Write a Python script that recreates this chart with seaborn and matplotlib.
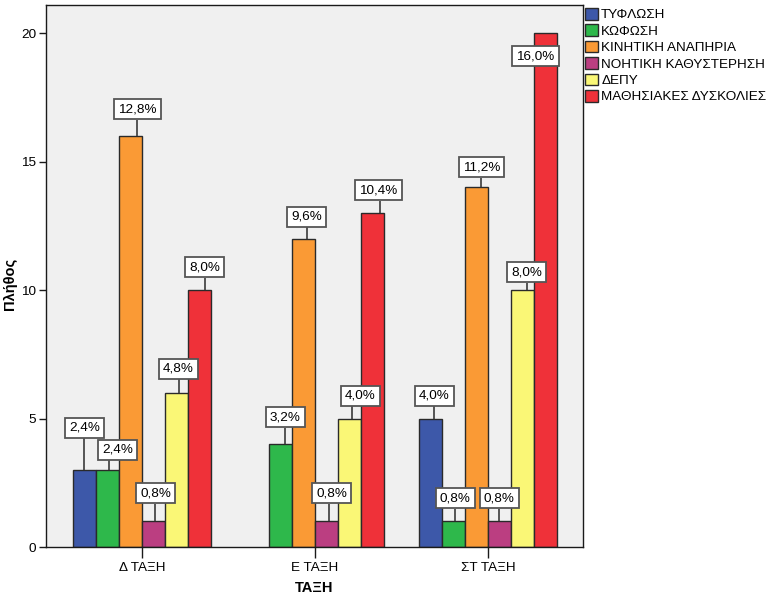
import matplotlib
matplotlib.use("Agg")
import matplotlib.pyplot as plt
import seaborn as sns
import pandas as pd
import numpy as np

# ---- data ----
classes = ["Δ ΤΑΞΗ", "Ε ΤΑΞΗ", "ΣΤ ΤΑΞΗ"]
groups = ["ΤΥΦΛΩΣΗ", "ΚΩΦΩΣΗ", "ΚΙΝΗΤΙΚΗ ΑΝΑΠΗΡΙΑ", "ΝΟΗΤΙΚΗ ΚΑΘΥΣΤΕΡΗΣΗ",
          "ΔΕΠΥ", "ΜΑΘΗΣΙΑΚΕΣ ΔΥΣΚΟΛΙΕΣ"]
counts_d = [3, 3, 16, 1, 6, 10]
counts_e = [np.nan, 4, 12, 1, 5, 13]
counts_st = [5, 1, 14, 1, 10, 20]
pct_d = ["2,4%", "2,4%", "12,8%", "0,8%", "4,8%", "8,0%"]
pct_e = [None, "3,2%", "9,6%", "0,8%", "4,0%", "10,4%"]
pct_st = ["4,0%", "0,8%", "11,2%", "0,8%", "8,0%", "16,0%"]
yticks = [0, 5, 10, 15, 20]

colors = ["#3D58A9", "#2EB84B", "#FA9A35", "#BB3E81", "#FAF776", "#EF3139"]

# label style: (box dx px, box dy px, leader-line dx px) relative to bar top centre
label_offsets = [
    [(0, 42, 0), (10, 20, 1.5), (7, 27, 6.5), (2, 28, 1), (2, 24, 2), (5, 23, 5)],
    [(0, 0, 0), (5, 27, 4.5), (3, 22, 3.5), (5, 28, 3), (11, 23, 2), (6, 23, 7)],
    [(4, 23, 4), (2, 23, 2), (5, 20, 5), (0, 23, 0), (4.5, 18, 4.5), (-10, -23, None)],
]
BOX_HALF_H = 10.5  # px
FS = 9.7

rows = []
for cls, cnts in zip(classes, [counts_d, counts_e, counts_st]):
    for g, c in zip(groups, cnts):
        rows.append({"ΤΑΞΗ": cls, "group": g, "count": c})
df = pd.DataFrame(rows).dropna()

sns.set_style("white")
plt.rcParams["font.family"] = ["Liberation Sans", "DejaVu Sans"]
plt.rcParams["text.color"] = "black"
plt.rcParams["axes.labelcolor"] = "black"
plt.rcParams["xtick.color"] = "black"
plt.rcParams["ytick.color"] = "black"

W, H = 767, 596
fig = plt.figure(figsize=(W / 100, H / 100), dpi=100)
ax_l, ax_t, ax_r, ax_b = 46, 5, 583, 547
ax = fig.add_axes([ax_l / W, (H - ax_b) / H, (ax_r - ax_l) / W, (ax_b - ax_t) / H])
ax.set_facecolor("#F0F0F0")

sns.barplot(data=df, x="ΤΑΞΗ", y="count", hue="group", order=classes,
            hue_order=groups, palette=colors, saturation=1, width=0.8,
            edgecolor="#2a2a2a", linewidth=1.0, ax=ax, legend=True)

xlim = (-0.555, 2.55)
ylim = (0, 21.1)
ax.set_xlim(*xlim)
ax.set_ylim(*ylim)
ax.set_yticks(yticks)
ax.set_yticklabels([str(t) for t in yticks])
for s in ax.spines.values():
    s.set_color("#1a1a1a")
    s.set_linewidth(1.0)
ax.tick_params(axis="y", direction="out", length=5, width=1, labelsize=FS, pad=2,
               color="#1a1a1a", left=True)
ax.tick_params(axis="x", direction="out", length=8, width=1, labelsize=FS, pad=3,
               color="#1a1a1a", bottom=True)
ax.set_xlabel("")
ax.set_ylabel("")
fig.text(314 / W, 1 - 588 / H, "ΤΑΞΗ", fontsize=10.5, fontweight="bold",
         ha="center", va="center")
fig.text(10 / W, 1 - 284 / H, "Πλήθος", fontsize=10.5, fontweight="bold",
         ha="center", va="center", rotation=90)

px = (xlim[1] - xlim[0]) / (ax_r - ax_l)
py = (ylim[1] - ylim[0]) / (ax_b - ax_t)

pcts = [pct_d, pct_e, pct_st]
for hi, cont in enumerate(ax.containers):
    for bar in cont:
        h = bar.get_height()
        if not np.isfinite(h) or h <= 0:
            continue
        xc = bar.get_x() + bar.get_width() / 2
        ci = int(round(xc))
        txt = pcts[ci][hi]
        if txt is None:
            continue
        dx, dy, ldx = label_offsets[ci][hi]
        if ldx is not None and dy - BOX_HALF_H > 0:
            lx = xc + ldx * px
            ax.plot([lx, lx], [h, h + (dy - BOX_HALF_H) * py], color="#3a3a3a",
                    lw=1.2, zorder=4, solid_capstyle="butt")
        ax.text(xc + dx * px, h + dy * py, txt, ha="center", va="center",
                fontsize=FS, zorder=5,
                bbox=dict(boxstyle="square,pad=0.3", fc="white", ec="#555555", lw=1.3))

leg = ax.get_legend()
handles = leg.legend_handles
leg.remove()
fig.legend(handles, groups, loc="upper left", bbox_to_anchor=(585 / W, 1 - 8 / H),
           frameon=False, fontsize=FS, handlelength=0.95, handleheight=0.95,
           handletextpad=0.25, labelspacing=0.22, borderaxespad=0, borderpad=0.0)
for hnd in handles:
    hnd.set_edgecolor("#2a2a2a")

fig.savefig("out.png", dpi=100)
